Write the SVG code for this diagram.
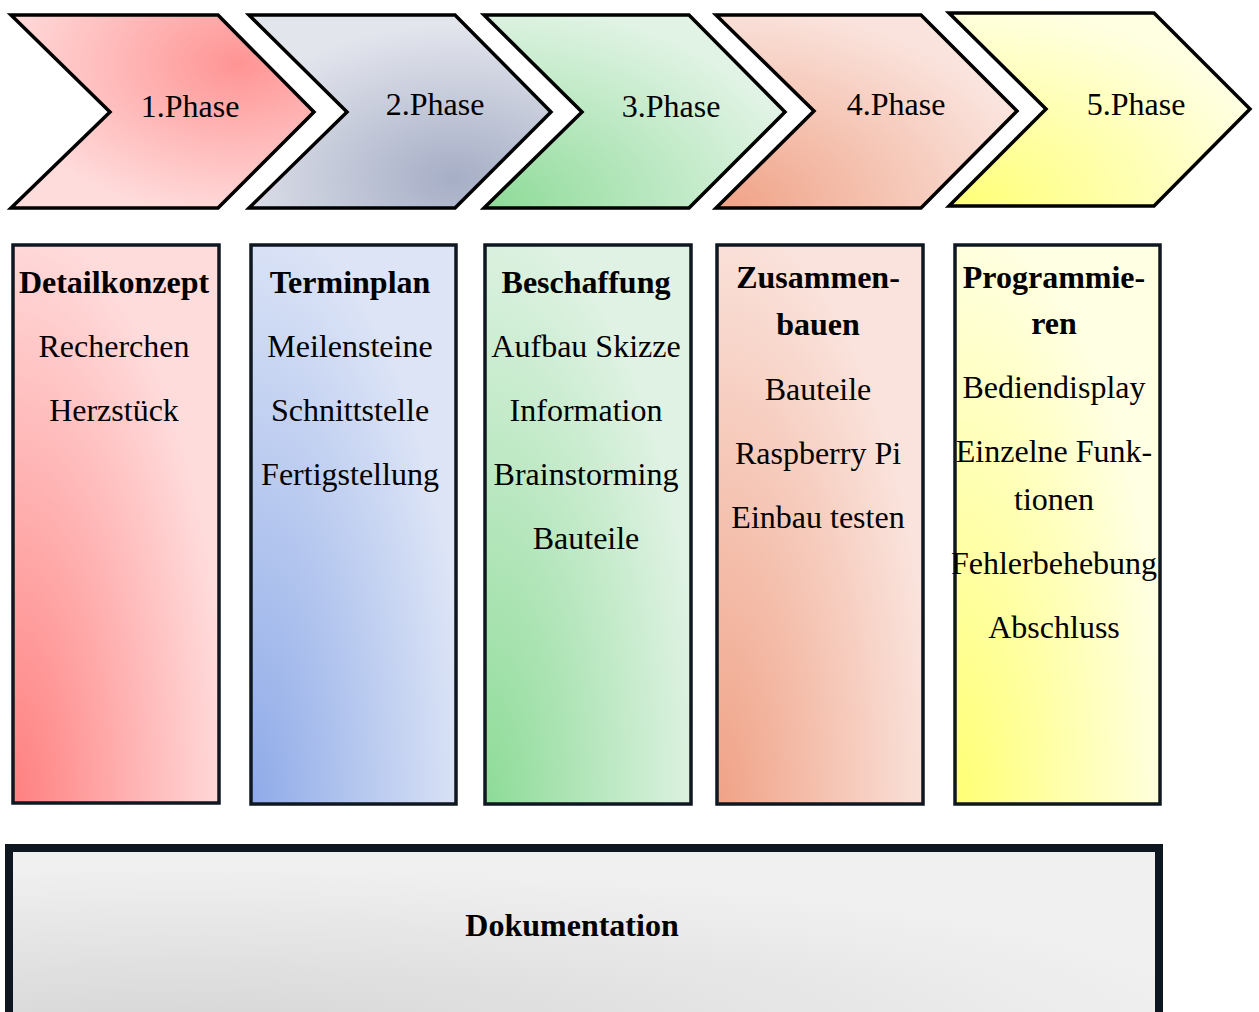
<svg xmlns="http://www.w3.org/2000/svg" width="1259" height="1012" viewBox="0 0 1259 1012">
  <style>
    text { font-family: "Liberation Serif", "Times New Roman", serif; font-size: 32px; fill: #000; text-anchor: middle; }
    .b { font-weight: bold; }
    .chev { stroke: #000; stroke-width: 3.5; stroke-linejoin: miter; stroke-miterlimit: 10; }
    .col { stroke: #0f1720; stroke-width: 3.5; }
    .doc { stroke: #0e1620; stroke-width: 8; }
  </style>
  <defs>
    <!-- phase arrows -->
    <radialGradient id="gc1" cx="0.75" cy="0.25" r="0.8">
      <stop offset="0" stop-color="#ff9494"/>
      <stop offset="1" stop-color="#ffdcdc"/>
    </radialGradient>
    <radialGradient id="gc2" cx="0.68" cy="0.85" r="0.8">
      <stop offset="0" stop-color="#a6aec6"/>
      <stop offset="1" stop-color="#e3e5ed"/>
    </radialGradient>
    <radialGradient id="gc3" cx="0.02" cy="1" r="1.05">
      <stop offset="0" stop-color="#8edb98"/>
      <stop offset="1" stop-color="#e0f3e4"/>
    </radialGradient>
    <radialGradient id="gc4" cx="0.02" cy="1" r="1.05">
      <stop offset="0" stop-color="#f0a286"/>
      <stop offset="1" stop-color="#fae3dc"/>
    </radialGradient>
    <radialGradient id="gc5" cx="0.05" cy="1" r="1.05">
      <stop offset="0" stop-color="#ffff78"/>
      <stop offset="1" stop-color="#ffffe2"/>
    </radialGradient>
    <!-- task columns -->
    <radialGradient id="gb1" cx="0" cy="1" r="1.05">
      <stop offset="0" stop-color="#ff7f7f"/>
      <stop offset="1" stop-color="#ffdcdc"/>
    </radialGradient>
    <radialGradient id="gb2" cx="0" cy="1" r="1.05">
      <stop offset="0" stop-color="#8eaae8"/>
      <stop offset="1" stop-color="#dce4f6"/>
    </radialGradient>
    <radialGradient id="gb3" cx="0" cy="1" r="1.05">
      <stop offset="0" stop-color="#8ddb97"/>
      <stop offset="1" stop-color="#dff2e3"/>
    </radialGradient>
    <radialGradient id="gb4" cx="0" cy="1" r="1.05">
      <stop offset="0" stop-color="#f0a286"/>
      <stop offset="1" stop-color="#fae3dc"/>
    </radialGradient>
    <radialGradient id="gb5" cx="0" cy="1" r="1.05">
      <stop offset="0" stop-color="#ffff74"/>
      <stop offset="1" stop-color="#ffffe4"/>
    </radialGradient>
    <radialGradient id="gdoc" cx="0.15" cy="1" r="0.9">
      <stop offset="0" stop-color="#d6d6d6"/>
      <stop offset="1" stop-color="#f0f0f0"/>
    </radialGradient>
  </defs>

  <rect width="1259" height="1012" fill="#fff"/>

  <!-- phase chevrons -->
  <g id="phase1">
    <polygon class="chev" fill="url(#gc1)" points="11,15 218,15 314,112 218,208 11,208 110,112"/>
    <text x="190" y="117">1.Phase</text>
  </g>
  <g id="phase2">
    <polygon class="chev" fill="url(#gc2)" points="249,15 455,15 551,112 455,208 249,208 347,112"/>
    <text x="435" y="115">2.Phase</text>
  </g>
  <g id="phase3">
    <polygon class="chev" fill="url(#gc3)" points="484,15 689,15 785,112 689,208 484,208 582,112"/>
    <text x="671" y="117">3.Phase</text>
  </g>
  <g id="phase4">
    <polygon class="chev" fill="url(#gc4)" points="716,15 921,15 1017,111 921,208 716,208 814,111"/>
    <text x="896" y="115">4.Phase</text>
  </g>
  <g id="phase5">
    <polygon class="chev" fill="url(#gc5)" points="949,13 1154,13 1250,109 1154,206 949,206 1046,109"/>
    <text x="1136" y="115">5.Phase</text>
  </g>

  <!-- task columns -->
  <g id="detailkonzept">
    <rect class="col" fill="url(#gb1)" x="13" y="245" width="206" height="558"/>
    <text class="b" x="114" y="293">Detailkonzept</text>
    <text x="114" y="357">Recherchen</text>
    <text x="114" y="421">Herzstück</text>
  </g>
  <g id="terminplan">
    <rect class="col" fill="url(#gb2)" x="251" y="245" width="205" height="559"/>
    <text class="b" x="350" y="293">Terminplan</text>
    <text x="350" y="357">Meilensteine</text>
    <text x="350" y="421">Schnittstelle</text>
    <text x="350" y="485">Fertigstellung</text>
  </g>
  <g id="beschaffung">
    <rect class="col" fill="url(#gb3)" x="485" y="245" width="206" height="559"/>
    <text class="b" x="586" y="293">Beschaffung</text>
    <text x="586" y="357">Aufbau Skizze</text>
    <text x="586" y="421">Information</text>
    <text x="586" y="485">Brainstorming</text>
    <text x="586" y="549">Bauteile</text>
  </g>
  <g id="zusammenbauen">
    <rect class="col" fill="url(#gb4)" x="717" y="245" width="206" height="559"/>
    <text class="b" x="818" y="288">Zusammen-</text>
    <text class="b" x="818" y="335">bauen</text>
    <text x="818" y="400">Bauteile</text>
    <text x="818" y="464">Raspberry Pi</text>
    <text x="818" y="528">Einbau testen</text>
  </g>
  <g id="programmieren">
    <rect class="col" fill="url(#gb5)" x="955" y="245" width="205" height="559"/>
    <text class="b" x="1054" y="288">Programmie-</text>
    <text class="b" x="1054" y="334">ren</text>
    <text x="1054" y="398">Bediendisplay</text>
    <text x="1054" y="462">Einzelne Funk-</text>
    <text x="1054" y="510">tionen</text>
    <text x="1054" y="574">Fehlerbehebung</text>
    <text x="1054" y="638">Abschluss</text>
  </g>

  <!-- documentation band -->
  <g id="dokumentation">
    <rect class="doc" fill="url(#gdoc)" x="9" y="848" width="1150" height="180"/>
    <text class="b" x="572" y="936">Dokumentation</text>
  </g>
</svg>
